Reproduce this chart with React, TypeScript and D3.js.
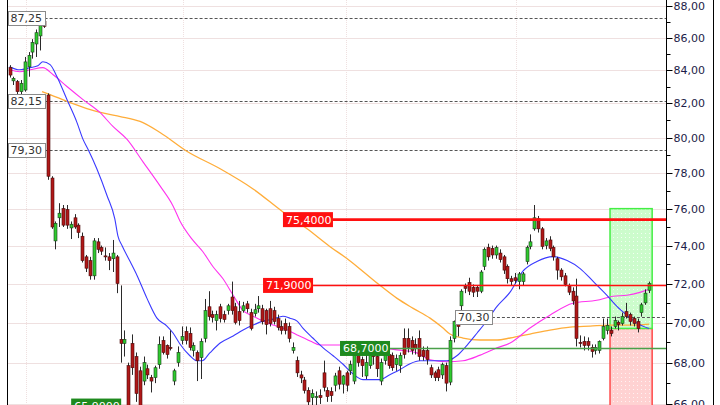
import React from 'react';
import * as d3 from 'd3';

// ---- Candle data ----
const opens = [84.15,83.35,83.3,82.7,82.8,84.2,85.1,85.6,86.1,87.0,82.5,77.7,74.25,75.5,76.0,75.95,74.95,75.5,75.1,74.5,73.4,73.2,72.4,74.2,73.9,73.45,73.4,73.3,73.4,69.15,68.95,67.85,68.95,68.3,67.6,67.1,67.7,67.27,67.27,67.9,69.1,68.85,68.75,67.1,68.0,69.1,69.55,69.45,68.6,68.5,68.25,69.2,70.8,70.4,70.1,70.8,70.4,70.6,71.3,70.8,70.55,70.6,70.95,70.5,70.45,70.7,70.7,70.6,70.7,70.6,70.2,69.8,69.95,69.8,68.6,68.1,67.4,67.15,66.65,66.3,66.3,66.4,67.5,66.65,66.6,66.9,67.6,66.95,67.5,67.6,67.1,68.35,68.15,67.35,67.85,68.6,68.3,67.1,68.1,68.4,68.35,67.9,67.85,69.2,69.2,69.1,68.9,69.2,68.6,68.6,67.75,67.5,67.65,67.4,67.85,67.05,69.2,70.05,70.85,71.85,72.05,71.8,71.8,71.6,72.9,73.9,73.85,73.5,73.6,73.4,72.9,72.25,72.3,72.1,72.1,73.15,73.95,74.9,75.45,74.9,74.0,74.3,73.9,73.3,72.7,72.4,71.85,71.6,71.35,69.0,69.05,69.05,68.75,68.6,68.6,69.2,69.6,69.6,69.8,70.0,69.95,70.55,70.4,70.2,70.05,70.5,71.0,71.65];
const highs = [84.3,83.6,83.4,83.4,84.8,85.1,85.9,86.5,87.0,87.25,82.6,77.8,75.3,76.3,76.2,76.2,75.3,75.7,75.2,74.7,73.5,73.4,74.4,74.4,74.0,73.9,73.6,74.3,73.5,71.9,69.6,68.0,69.4,68.5,67.8,68.3,67.9,67.4,67.85,69.3,69.3,68.9,69.6,67.7,68.8,69.8,69.8,69.75,69.0,68.6,69.2,71.2,71.6,70.6,70.6,70.95,70.6,70.95,72.1,71.0,71.1,71.05,71.1,70.7,70.95,71.35,70.9,70.7,71.1,70.8,70.4,70.1,70.2,70.0,69.0,68.3,67.6,67.3,66.8,66.7,66.6,66.7,68.1,66.8,66.8,67.5,67.8,67.4,67.6,68.1,68.75,68.5,68.3,68.5,69.0,68.8,68.4,68.2,68.8,68.6,68.5,68.4,68.5,69.7,69.7,69.3,69.2,69.6,68.8,68.8,67.9,67.6,67.8,68.0,68.0,69.3,70.1,70.2,71.7,72.0,72.3,71.95,71.9,72.7,73.9,74.1,74.0,74.0,73.8,73.5,73.0,72.4,72.55,72.6,72.6,74.0,74.6,76.2,75.6,75.0,74.4,74.5,74.0,73.4,72.8,72.55,72.0,71.8,72.25,69.35,69.3,69.25,68.9,68.9,69.1,70.2,70.2,69.8,70.3,70.1,70.5,71.0,70.5,70.3,70.2,71.0,71.7,72.1];
const lows = [83.55,83.1,81.8,82.2,82.7,83.6,84.7,84.8,85.2,86.6,77.6,74.9,73.8,75.0,75.0,74.9,74.35,74.9,74.4,73.1,72.6,72.2,72.2,73.6,73.5,73.2,72.7,72.6,71.5,68.0,68.3,65.5,67.4,66.1,65.5,66.9,67.2,66.55,67.0,67.7,68.4,68.2,68.6,66.9,67.8,68.9,68.9,68.6,68.3,67.1,67.2,69.0,70.1,70.0,69.6,70.0,70.0,70.4,70.4,69.9,69.85,70.5,70.5,69.6,70.3,70.5,69.9,69.4,69.8,69.9,69.6,69.4,69.4,69.0,68.45,67.3,67.0,66.5,65.6,65.9,65.8,66.0,66.6,66.1,66.1,66.6,66.7,66.5,66.6,67.4,66.95,67.8,67.3,67.2,67.7,67.9,67.3,66.9,67.9,67.7,67.6,67.6,67.5,68.2,68.5,68.4,68.4,68.1,68.1,67.9,67.25,67.1,67.1,67.2,66.6,66.9,69.0,69.3,70.6,71.5,71.4,71.3,71.3,71.5,72.7,73.2,73.3,73.3,73.1,72.5,72.0,71.9,72.0,71.7,71.9,73.0,73.8,74.8,74.7,73.8,73.8,73.7,73.2,72.2,72.15,71.85,71.4,70.9,68.8,68.75,68.6,68.6,68.25,68.4,68.45,69.1,69.4,69.3,69.7,69.6,69.85,70.2,69.85,69.8,69.5,70.3,70.9,71.5];
const closes = [83.7,83.5,82.7,83.2,84.5,84.9,85.7,86.3,86.8,86.7,77.8,75.0,75.2,75.75,75.1,75.1,75.15,75.0,74.7,73.2,72.8,72.4,74.25,73.8,73.7,73.4,73.2,73.6,72.0,68.95,69.15,65.9,67.75,66.5,65.9,68.0,67.4,67.1,67.75,68.9,68.5,68.4,68.7,67.6,68.5,69.3,69.1,68.75,68.85,68.1,69.05,70.6,70.3,70.25,70.4,70.2,70.15,70.85,70.6,70.0,70.1,70.85,70.7,69.7,70.65,70.85,70.05,69.9,69.95,70.05,69.75,69.6,69.6,69.2,68.75,67.5,67.25,66.65,66.1,66.5,66.35,66.3,66.8,66.35,66.4,67.35,66.95,67.35,66.9,67.9,68.35,68.0,67.85,68.0,68.6,68.3,67.7,68.0,68.6,67.85,67.75,68.2,68.35,68.4,68.75,68.6,68.7,68.3,68.3,68.15,67.4,67.27,67.27,67.9,67.0,69.1,70.05,69.8,71.6,71.75,71.6,71.55,71.6,72.6,73.8,73.4,73.5,73.9,73.25,72.7,72.25,72.1,72.15,72.5,72.5,73.9,74.2,75.5,74.9,73.95,74.25,73.85,73.4,72.7,72.35,71.95,71.55,71.1,69.2,68.95,68.85,68.85,68.55,68.75,69.05,69.8,69.85,69.45,70.1,69.9,70.3,70.3,70.05,69.95,69.7,70.9,71.5,72.0];

// ---- Moving averages: [candle index, value] ----
const maBlue: [number, number][] = [[0,84.21],[2.7,84.02],[5.4,84.15],[7.4,84.27],[8.7,84.51],[10.6,84.33],[12.4,83.6],[15,82.23],[17.6,80.89],[19.2,79.9],[20.5,79.33],[22.8,78.22],[25.5,76.7],[27.5,75.44],[28.3,74.52],[29.4,73.99],[31.5,73.15],[33.3,72.42],[35.9,71.23],[38.5,70.22],[41.1,69.82],[42.7,69.47],[44.5,68.92],[47.1,68.34],[49,68.09],[50.3,68.09],[52.3,68.48],[55,68.97],[58.4,69.32],[61,69.62],[63.6,69.87],[66.2,70.07],[68.8,70.17],[71.4,70.32],[73.2,70.22],[75.1,70.07],[76.6,69.72],[79.2,69.22],[81.9,68.73],[84.5,68.34],[87.1,67.92],[88.9,67.58],[92.3,67.17],[96.7,67.17],[99.3,67.41],[101.9,67.65],[104.6,67.95],[107.2,68.09],[110.6,68.09],[114.2,68.09],[116.8,68.34],[119.5,68.87],[122.1,69.47],[124.7,70.1],[127.3,70.82],[130.7,71.55],[134,72.63],[137.7,73.15],[141.9,73.41],[145.6,73.2],[149,72.78],[152.4,72.11],[156,71.39],[158.6,70.82],[161.2,70.37],[163.8,69.97],[167,69.7]];
const maMagenta: [number, number][] = [[0,84.02],[2.7,83.9],[5.4,84.02],[8.7,84.15],[11.4,83.72],[15,83.01],[19.2,82.23],[23.6,81.47],[27,80.65],[30.7,79.9],[34.9,78.6],[39.3,77.26],[42.7,76.15],[44.5,75.33],[47.6,74.36],[50.5,73.67],[53.1,72.89],[55.7,72.26],[58.4,71.39],[61,70.6],[63.6,70.32],[66.2,70.07],[68.8,69.87],[71.4,69.72],[75.1,69.37],[78.5,69.07],[81.1,68.87],[85.5,68.87],[88.9,68.87],[92.3,68.83],[101.2,68.63],[106.4,68.48],[109.8,68.14],[114.2,68.04],[118.4,68.09],[122.9,68.37],[127.3,68.73],[130.7,68.97],[135.9,69.72],[141.1,70.37],[147.1,70.98],[153.3,71.13],[157.6,71.34],[161.2,71.39],[164.6,71.54],[167,71.7]];
const maOrange: [number, number][] = [[8.5,82.71],[10.6,82.53],[15,82.12],[20.2,81.7],[24.9,81.41],[28.9,81.23],[34.1,80.94],[39.3,80.3],[46.3,79.22],[55,78.22],[63.6,77.09],[71.4,75.82],[77.7,74.9],[83.7,73.94],[88.1,73.31],[92.3,72.63],[96.7,71.91],[101.2,71.23],[105.4,70.72],[109.8,70.22],[113.2,69.72],[115,69.42],[118.4,69.22],[122.9,69.12],[127.3,69.12],[130.7,69.22],[135.9,69.42],[141.1,69.62],[146.4,69.77],[151.6,69.82],[156.8,69.87],[162,69.87],[167,69.92]];

// ---- Axis / grid ----
const majorTicks = [66, 68, 70, 72, 74, 76, 78, 80, 82, 84, 86, 88];
const minorTicks = [67, 69, 71, 73, 75, 77, 79, 81, 83, 85, 87];
const periodGridIdx = [4.3, 45.3, 87.9, 132.2];

// ---- Drawn levels ----
const dashedLevels = [87.25, 82.15, 79.3, 70.3];
const dashedLabelIdx = [-0.5, -0.5, -0.5, 116.3];
const redLevels = [75.4, 71.9];
const redLabelIdx = [71.4, 66.2];
const greenLevels = [68.7, 65.9];
const greenLabelIdx = [86.3, 16.1];
const zoneIdx = [156.8, 167.8];
const zoneTarget = 76.0;
const zoneEntry = 69.7;
const zoneStop = 64.5;

const loc = d3.formatLocale({ decimal: ',', thousands: '.', grouping: [3], currency: ['', ''] });
const f2 = loc.format('.2f');
const f4 = loc.format('.4f');

export default function App() {
  const W = 720, H = 405;
  const plotL = 7.5, plotR = 666.5;
  const x = d3.scaleLinear().domain([0, closes.length - 1]).range([9.5, 649.1]);
  const y = d3.scaleLog().domain([70, 88]).range([322.5, 5.7]);
  const line = d3.line<[number, number]>().x(d => x(d[0])).y(d => y(d[1])).curve(d3.curveMonotoneX);
  const font = '"DejaVu Sans", Verdana, sans-serif';
  const crisp = (v: number) => Math.round(v) + 0.5;

  return (
    <svg width={W} height={H} style={{ position: 'absolute', left: 0, top: 0, display: 'block', background: '#fff' }}>
      <defs>
        <clipPath id="plot"><rect x={plotL} y={0} width={plotR - plotL} height={H} /></clipPath>
        <pattern id="dotsG" width="4" height="4" patternUnits="userSpaceOnUse">
          <rect width="4" height="4" fill="#ccfccc" />
          <rect x="1" y="1" width="1" height="1" fill="#f2fff2" />
        </pattern>
        <pattern id="dotsR" width="4" height="4" patternUnits="userSpaceOnUse">
          <rect width="4" height="4" fill="#ffd2d2" />
          <rect x="1" y="1" width="1" height="1" fill="#fff2f2" />
        </pattern>
      </defs>
      <rect x={0} y={0} width={W} height={H} fill="#fff" />
      <g clipPath="url(#plot)">
        {majorTicks.map(t => (
          <line key={'g' + t} x1={plotL} x2={plotR} y1={crisp(y(t))} y2={crisp(y(t))} stroke="#efe0e0" />
        ))}
        {periodGridIdx.map(p => (
          <line key={'v' + p} x1={crisp(x(p))} x2={crisp(x(p))} y1={0} y2={H} stroke="#efe0e0" strokeDasharray="1,1" />
        ))}
        {/* trade zone */}
        <rect x={x(zoneIdx[0])} y={y(zoneEntry)} width={x(zoneIdx[1]) - x(zoneIdx[0])} height={y(zoneStop) - y(zoneEntry)}
          fill="url(#dotsR)" stroke="#ff4a4a" strokeWidth={1.5} />
        <rect x={x(zoneIdx[0])} y={y(zoneTarget)} width={x(zoneIdx[1]) - x(zoneIdx[0])} height={y(zoneEntry) - y(zoneTarget)}
          fill="url(#dotsG)" stroke="#44ee44" strokeWidth={1.5} />
        {/* dashed levels */}
        {dashedLevels.map((v, k) => (
          <line key={'d' + k} x1={x(dashedLabelIdx[k]) + 37} x2={plotR} y1={crisp(y(v))} y2={crisp(y(v))}
            stroke="#555" strokeDasharray="3,2" />
        ))}
        {/* moving averages */}
        <path d={line(maOrange) || ''} fill="none" stroke="#ffad3a" strokeWidth={1.3} />
        <path d={line(maMagenta) || ''} fill="none" stroke="#ff33ee" strokeWidth={1.1} />
        <path d={line(maBlue) || ''} fill="none" stroke="#3a3aff" strokeWidth={1.1} />
        {/* candles */}
        {closes.map((c, i) => {
          const o = opens[i];
          const up = c >= o;
          const cx = crisp(x(i));
          const top = y(Math.max(o, c));
          const bot = y(Math.min(o, c));
          return (
            <g key={'c' + i}>
              <line x1={cx} x2={cx} y1={y(highs[i])} y2={y(lows[i])} stroke="#2a2a2a" strokeWidth={1} />
              <rect x={cx - 1.5} y={top} width={3} height={Math.max(1, bot - top)}
                fill={up ? '#2fcb2f' : '#b01818'} stroke={up ? '#1d3d1d' : '#4a0a0a'} strokeWidth={0.6} />
            </g>
          );
        })}
        {/* solid levels */}
        {redLevels.map((v, k) => (
          <line key={'r' + k} x1={x(redLabelIdx[k]) + 50} x2={plotR} y1={y(v)} y2={y(v)}
            stroke="#ff1010" strokeWidth={k === 0 ? 2.6 : 1.5} />
        ))}
        {greenLevels.map((v, k) => (
          <line key={'gl' + k} x1={x(greenLabelIdx[k]) + 50} x2={plotR} y1={y(v)} y2={y(v)}
            stroke="#4aa04a" strokeWidth={1.5} />
        ))}
        {/* labels */}
        {dashedLevels.map((v, k) => (
          <g key={'dl' + k}>
            <rect x={crisp(x(dashedLabelIdx[k]))} y={Math.round(y(v)) - 6.5} width={37} height={14} fill="#fff" stroke="#8a8a8a" />
            <text x={x(dashedLabelIdx[k]) + 3} y={y(v) + 4.5} fontSize={11} fontFamily={font} fill="#333">{f2(v)}</text>
          </g>
        ))}
        {redLevels.map((v, k) => (
          <g key={'rl' + k}>
            <rect x={x(redLabelIdx[k])} y={y(v) - 7.5} width={50} height={15} fill="#ff1010" />
            <text x={x(redLabelIdx[k]) + 3} y={y(v) + 4} fontSize={11} fontFamily={font} fill="#fff">{f4(v)}</text>
          </g>
        ))}
        {greenLevels.map((v, k) => (
          <g key={'glb' + k}>
            <rect x={x(greenLabelIdx[k])} y={y(v) - 7.5} width={50} height={15} fill="#1e8a1e" />
            <text x={x(greenLabelIdx[k]) + 3} y={y(v) + 4} fontSize={11} fontFamily={font} fill="#fff">{f4(v)}</text>
          </g>
        ))}
      </g>
      {/* frame */}
      <line x1={plotL} x2={plotL} y1={0} y2={H} stroke="#000" />
      <line x1={plotR} x2={plotR} y1={0} y2={H} stroke="#000" />
      <line x1={713.5} x2={713.5} y1={0} y2={H} stroke="#000" />
      {/* right axis */}
      {minorTicks.map(t => (
        <line key={'mt' + t} x1={plotR} x2={plotR + 4} y1={crisp(y(t))} y2={crisp(y(t))} stroke="#000" />
      ))}
      {majorTicks.map(t => (
        <g key={'t' + t}>
          <line x1={plotR} x2={plotR + 6} y1={crisp(y(t))} y2={crisp(y(t))} stroke="#000" />
          <text x={plotR + 7} y={y(t) + 4} fontSize={11} fontFamily={font} fill="#1c1c48">{f2(t)}</text>
        </g>
      ))}
    </svg>
  );
}
